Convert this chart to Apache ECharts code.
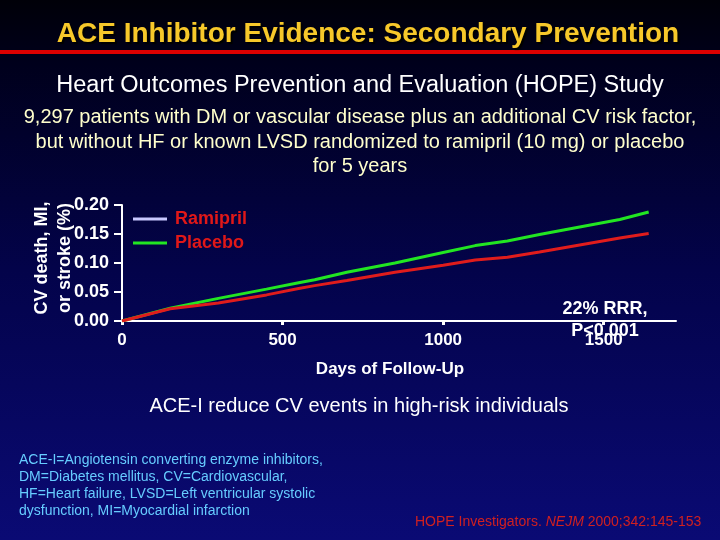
<!DOCTYPE html>
<html><head><meta charset="utf-8">
<script src="https://cdn.jsdelivr.net/npm/echarts@6/dist/echarts.min.js"></script>
<style>html,body{margin:0;padding:0;background:#000;}#c{width:720px;height:540px;}</style>
</head><body><div id="c"></div>
<script>
const days = [0, 150, 300, 450, 550, 600, 700, 850, 1000, 1100, 1200, 1300, 1425, 1550, 1640];
const placebo = [0, 0.022, 0.039, 0.055, 0.066, 0.071, 0.084, 0.100, 0.118, 0.130, 0.138, 0.149, 0.162, 0.175, 0.188];
const ramipril = [0, 0.021, 0.031, 0.045, 0.056, 0.061, 0.070, 0.084, 0.096, 0.105, 0.110, 0.119, 0.131, 0.143, 0.151];
const xTicks = [0, 500, 1000, 1500];
const yTicks = [0, 0.05, 0.10, 0.15, 0.20];
const legendNames = ['Ramipril', 'Placebo'];

const chart = echarts.init(document.getElementById('c'), null, {renderer: 'canvas'});
const narrow = '"Liberation Sans Narrow", "Liberation Sans", Arial, sans-serif';
const sans = '"Liberation Sans", Arial, sans-serif';
chart.setOption({
  backgroundColor: new echarts.graphic.LinearGradient(0, 0, 0, 1, [
    {offset: 0, color: '#000008'},
    {offset: 0.12, color: '#00001c'},
    {offset: 0.5, color: '#03034a'},
    {offset: 1, color: '#0a0a74'}
  ]),
  animation: false,
  grid: {left: 122, right: 44, top: 205, bottom: 219, containLabel: false},
  legend: {
    left: 128, top: 205, orient: 'vertical', itemGap: 6,
    itemWidth: 34, itemHeight: 3, icon: 'rect',
    textStyle: {color: '#e01818', fontFamily: sans, fontWeight: 'bold', fontSize: 18, padding: [0, 0, 0, 3]},
    data: [
      {name: legendNames[0], itemStyle: {color: '#c8c8ff'}},
      {name: legendNames[1], itemStyle: {color: '#22e622'}}
    ]
  },
  xAxis: {
    type: 'value', min: 0, max: 1725, interval: 500,
    axisLine: {show: true, lineStyle: {color: '#ffffff', width: 2}},
    axisTick: {show: true, length: 4, inside: false, lineStyle: {color: '#fff', width: 3}, customValues: xTicks},
    axisLabel: {color: '#fff', fontFamily: sans, fontWeight: 'bold', fontSize: 17, margin: 11, customValues: xTicks,
      formatter: v => String(v)},
    splitLine: {show: false}
  },
  yAxis: {
    type: 'value', min: 0, max: 0.2, interval: 0.05,
    axisLine: {show: true, lineStyle: {color: '#ffffff', width: 2}},
    axisTick: {show: true, length: 8, lineStyle: {color: '#fff', width: 2}},
    axisLabel: {color: '#fff', fontFamily: sans, fontWeight: 'bold', fontSize: 18, margin: 13,
      formatter: v => v.toFixed(2)},
    splitLine: {show: false}
  },
  series: [
    {name: 'Placebo', type: 'line', data: days.map((d, i) => [d, placebo[i]]), showSymbol: false, symbol: 'none',
      lineStyle: {color: '#22e622', width: 3}, itemStyle: {color: '#22e622'}},
    {name: 'Ramipril', type: 'line', data: days.map((d, i) => [d, ramipril[i]]), showSymbol: false, symbol: 'none',
      lineStyle: {color: '#e01c1c', width: 3}, itemStyle: {color: '#c8c8ff'}}
  ],
  graphic: [
    {type: 'rect', left: 0, top: 50, shape: {width: 720, height: 4}, style: {fill: '#dd0000'}, z: 5},
    {type: 'text', x: 368, y: 34, z: 10, style: {
      text: 'ACE Inhibitor Evidence: Secondary Prevention', fill: '#f7c82a', align: 'center', verticalAlign: 'middle',
      font: 'bold 28px ' + sans, textShadowColor: '#000', textShadowOffsetX: 2, textShadowOffsetY: 2, textShadowBlur: 1}},
    {type: 'text', x: 360, y: 86, z: 10, style: {
      text: 'Heart Outcomes Prevention and Evaluation (HOPE) Study', fill: '#ffffff', font: '23.5px ' + sans,
      align: 'center', verticalAlign: 'middle'}},
    {type: 'text', x: 360, y: 142, z: 10, style: {
      text: '9,297 patients with DM or vascular disease plus an additional CV risk factor,\nbut without HF or known LVSD randomized to ramipril (10 mg) or placebo\nfor 5 years',
      fill: '#ffffcc', font: '20px ' + sans, align: 'center', verticalAlign: 'middle', lineHeight: 24.5}},
    {type: 'text', x: 54, y: 258, rotation: Math.PI / 2, z: 10, style: {
      text: 'CV death, MI,\nor stroke (%)', fill: '#fff', font: 'bold 18px ' + sans,
      align: 'center', verticalAlign: 'middle', lineHeight: 23}},
    {type: 'text', x: 605, y: 320, z: 10, style: {
      text: '22% RRR,\nP<0.001', fill: '#fff', font: 'bold 18px ' + sans,
      align: 'center', verticalAlign: 'middle', lineHeight: 22}},
    {type: 'text', x: 390, y: 369, z: 10, style: {
      text: 'Days of Follow-Up', fill: '#fff', font: 'bold 17px ' + sans, align: 'center', verticalAlign: 'middle'}},
    {type: 'text', x: 359, y: 406, z: 10, style: {
      text: 'ACE-I reduce CV events in high-risk individuals', fill: '#fff', font: '20px ' + sans,
      align: 'center', verticalAlign: 'middle'}},
    {type: 'text', left: 19, top: 452, z: 10, style: {
      text: 'ACE-I=Angiotensin converting enzyme inhibitors,\nDM=Diabetes mellitus, CV=Cardiovascular,\nHF=Heart failure, LVSD=Left ventricular systolic\ndysfunction, MI=Myocardial infarction',
      fill: '#66ccff', font: '14px ' + narrow, lineHeight: 16.8}},
    {type: 'text', left: 415, top: 515, z: 10, style: {
      text: '{a|HOPE Investigators. }{b|NEJM}{a| 2000;342:145-153}',
      rich: {a: {fill: '#d02020', font: '14px ' + narrow}, b: {fill: '#d02020', font: 'italic 14px ' + narrow}}}}
  ]
});
</script></body></html>
